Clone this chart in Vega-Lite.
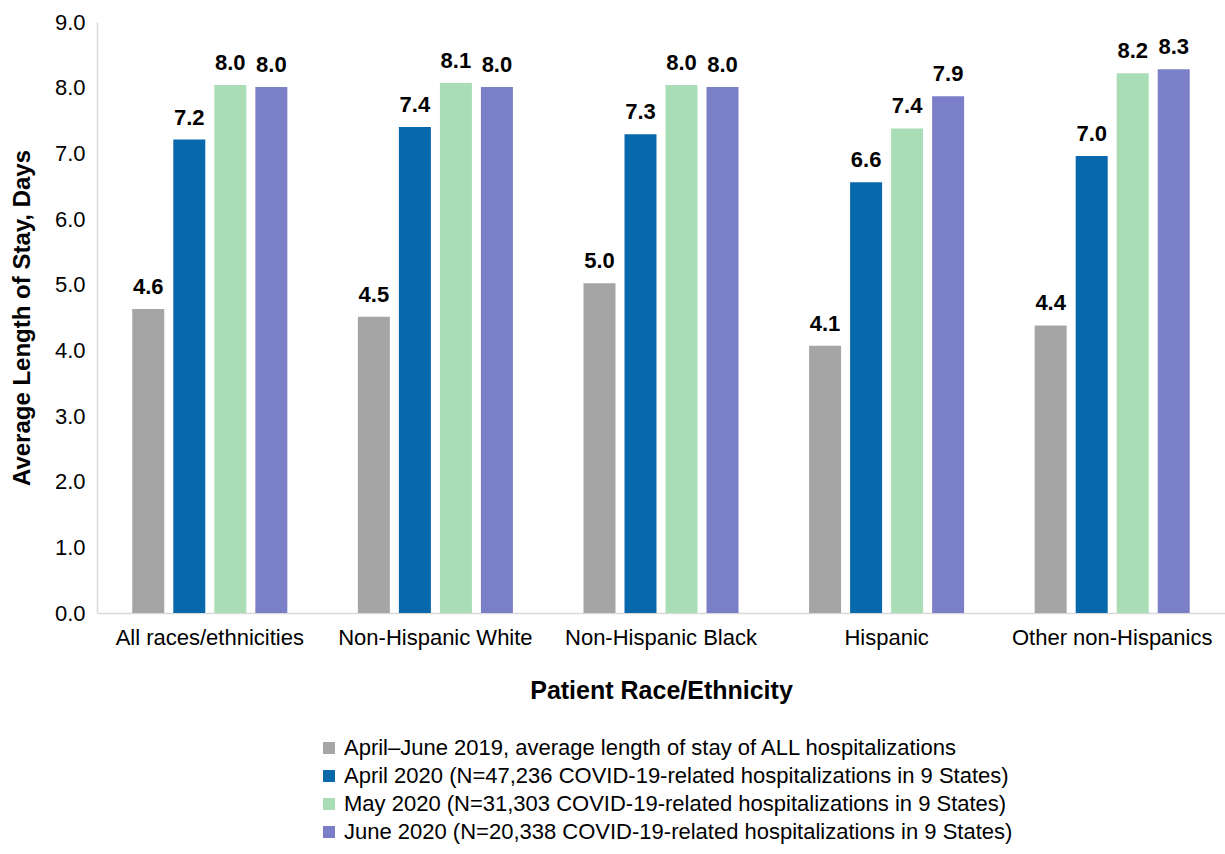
{
  "$schema": "https://vega.github.io/schema/vega-lite/v6.json",
  "autosize": "none",
  "padding": {"left": 97, "top": 22, "right": 0, "bottom": 241},
  "width": 1128,
  "height": 591,
  "background": "white",
  "config": {
    "view": {"stroke": null},
    "font": "Liberation Sans"
  },
  "data": {
    "values": [
      {"group": "All races/ethnicities", "series": "April–June 2019, average length of stay of ALL hospitalizations", "value": 4.63},
      {"group": "All races/ethnicities", "series": "April 2020 (N=47,236 COVID-19-related hospitalizations in 9 States)", "value": 7.21},
      {"group": "All races/ethnicities", "series": "May 2020 (N=31,303 COVID-19-related hospitalizations in 9 States)", "value": 8.04},
      {"group": "All races/ethnicities", "series": "June 2020 (N=20,338 COVID-19-related hospitalizations in 9 States)", "value": 8.01},
      {"group": "Non-Hispanic White", "series": "April–June 2019, average length of stay of ALL hospitalizations", "value": 4.51},
      {"group": "Non-Hispanic White", "series": "April 2020 (N=47,236 COVID-19-related hospitalizations in 9 States)", "value": 7.4},
      {"group": "Non-Hispanic White", "series": "May 2020 (N=31,303 COVID-19-related hospitalizations in 9 States)", "value": 8.07},
      {"group": "Non-Hispanic White", "series": "June 2020 (N=20,338 COVID-19-related hospitalizations in 9 States)", "value": 8.01},
      {"group": "Non-Hispanic Black", "series": "April–June 2019, average length of stay of ALL hospitalizations", "value": 5.02},
      {"group": "Non-Hispanic Black", "series": "April 2020 (N=47,236 COVID-19-related hospitalizations in 9 States)", "value": 7.29},
      {"group": "Non-Hispanic Black", "series": "May 2020 (N=31,303 COVID-19-related hospitalizations in 9 States)", "value": 8.04},
      {"group": "Non-Hispanic Black", "series": "June 2020 (N=20,338 COVID-19-related hospitalizations in 9 States)", "value": 8.01},
      {"group": "Hispanic", "series": "April–June 2019, average length of stay of ALL hospitalizations", "value": 4.07},
      {"group": "Hispanic", "series": "April 2020 (N=47,236 COVID-19-related hospitalizations in 9 States)", "value": 6.56},
      {"group": "Hispanic", "series": "May 2020 (N=31,303 COVID-19-related hospitalizations in 9 States)", "value": 7.38},
      {"group": "Hispanic", "series": "June 2020 (N=20,338 COVID-19-related hospitalizations in 9 States)", "value": 7.87},
      {"group": "Other non-Hispanics", "series": "April–June 2019, average length of stay of ALL hospitalizations", "value": 4.38},
      {"group": "Other non-Hispanics", "series": "April 2020 (N=47,236 COVID-19-related hospitalizations in 9 States)", "value": 6.96},
      {"group": "Other non-Hispanics", "series": "May 2020 (N=31,303 COVID-19-related hospitalizations in 9 States)", "value": 8.22},
      {"group": "Other non-Hispanics", "series": "June 2020 (N=20,338 COVID-19-related hospitalizations in 9 States)", "value": 8.28}
    ]
  },
  "encoding": {
    "x": {
      "field": "group", "type": "nominal", "sort": null,
      "scale": {"paddingInner": 0, "paddingOuter": 0},
      "axis": {
        "title": "Patient Race/Ethnicity",
        "titleFont": "Liberation Sans", "titleFontSize": 25, "titleFontWeight": "bold", "titleColor": "#000000",
        "titlePadding": 30,
        "labelFont": "Liberation Sans", "labelFontSize": 22, "labelColor": "#000000", "labelPadding": 14,
        "labelAngle": 0, "labelLimit": 400,
        "ticks": false, "domainColor": "#d9d9d9", "domainWidth": 1.5
      }
    },
    "xOffset": {
      "field": "series", "type": "nominal", "sort": null,
      "scale": {"paddingInner": 0.22, "paddingOuter": 0.86}
    },
    "y": {
      "field": "value", "type": "quantitative",
      "scale": {"domain": [0, 9], "nice": false},
      "axis": {
        "title": "Average Length of Stay, Days",
        "titleFont": "Liberation Sans", "titleFontSize": 24, "titleFontWeight": "bold", "titleColor": "#000000",
        "titlePadding": 20,
        "labelFont": "Liberation Sans", "labelFontSize": 22, "labelColor": "#000000", "labelPadding": 12,
        "format": ".1f", "values": [0,1,2,3,4,5,6,7,8,9],
        "grid": false, "ticks": false, "domainColor": "#d9d9d9", "domainWidth": 1.5
      }
    },
    "color": {
      "field": "series", "type": "nominal", "sort": null,
      "scale": {
        "domain": [
          "April–June 2019, average length of stay of ALL hospitalizations",
          "April 2020 (N=47,236 COVID-19-related hospitalizations in 9 States)",
          "May 2020 (N=31,303 COVID-19-related hospitalizations in 9 States)",
          "June 2020 (N=20,338 COVID-19-related hospitalizations in 9 States)"
        ],
        "range": ["#a5a5a5", "#0868ac", "#a8ddb5", "#7b7fc7"]
      },
      "legend": {
        "title": null, "orient": "none", "legendX": 221, "legendY": 715,
        "direction": "vertical",
        "symbolType": "square", "symbolSize": 144, "symbolStrokeWidth": 0,
        "labelFont": "Liberation Sans", "labelFontSize": 22, "labelColor": "#000000",
        "labelLimit": 900, "rowPadding": 6, "labelOffset": 4
      }
    }
  },
  "layer": [
    {"mark": {"type": "bar"}},
    {
      "mark": {"type": "text", "baseline": "alphabetic", "dy": -15, "fontWeight": "bold", "fontSize": 22, "font": "Liberation Sans", "color": "#000000"},
      "encoding": {
        "text": {"field": "value", "type": "quantitative", "format": ".1f"},
        "color": {"value": "#000000"}
      }
    }
  ]
}
